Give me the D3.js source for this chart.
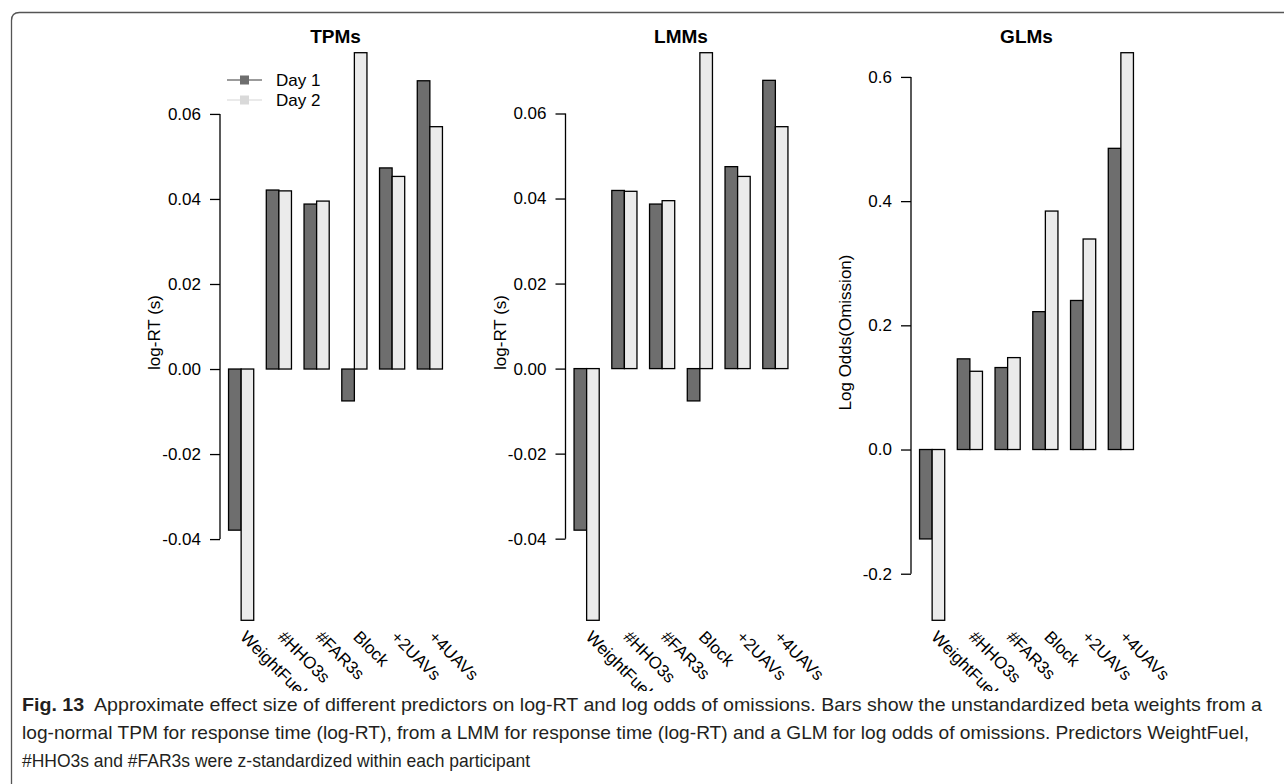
<!DOCTYPE html>
<html>
<head>
<meta charset="utf-8">
<script src="https://cdnjs.cloudflare.com/ajax/libs/d3/7.8.5/d3.min.js"></script>
<style>
  body { margin: 0; background: #fff; }
  svg { display: block; }
  text { font-family: "Liberation Sans", Arial, Helvetica, sans-serif; fill: #000; }
  .caption { font-family: "Liberation Sans", Arial, sans-serif; fill: #231f20; }
</style>
</head>
<body>
<div id="chart"></div>
<script>
// predictors and days
var predictors = ["WeightFuel", "#HHO3s", "#FAR3s", "Block", "+2UAVs", "+4UAVs"];
var days = ["Day 1", "Day 2"];

// beta weights
var tpmDay1 = [-0.0379, 0.0421, 0.0388, -0.0075, 0.0473, 0.0678];
var tpmDay2 = [-0.0591, 0.0419, 0.0395, 0.0744, 0.0453, 0.0570];
var lmmDay1 = [-0.0380, 0.0419, 0.0387, -0.0076, 0.0475, 0.0678];
var lmmDay2 = [-0.0592, 0.0417, 0.0395, 0.0743, 0.0452, 0.0569];
var glmDay1 = [-0.144, 0.146, 0.132, 0.222, 0.240, 0.485];
var glmDay2 = [-0.275, 0.126, 0.148, 0.384, 0.339, 0.639];

// tick labels
var rtTicks = [-0.04, -0.02, 0.00, 0.02, 0.04, 0.06];
var glmTicks = [-0.2, 0.0, 0.2, 0.4, 0.6];

var panelTitles = ["TPMs", "LMMs", "GLMs"];
var yTitles = ["log-RT (s)", "log-RT (s)", "Log Odds(Omission)"];

var captionLines = [
  "Approximate effect size of different predictors on log-RT and log odds of omissions. Bars show the unstandardized beta weights from a",
  "log-normal TPM for response time (log-RT), from a LMM for response time (log-RT) and a GLM for log odds of omissions. Predictors WeightFuel,",
  "#HHO3s and #FAR3s were z-standardized within each participant"
];

var width = 1284, height = 784;
var dayColors = ["#6e6e6e", "#ebebeb"];

var svg = d3.select("#chart").append("svg")
    .attr("width", width)
    .attr("height", height);

var panels = [
  { d1: tpmDay1, d2: tpmDay2, ticks: rtTicks, fmt: ".2f" },
  { d1: lmmDay1, d2: lmmDay2, ticks: rtTicks, fmt: ".2f" },
  { d1: glmDay1, d2: glmDay2, ticks: glmTicks, fmt: ".1f" }
];

var plotTop = 30, plotBottom = 643, plotW = 231;

panels.forEach(function(p, k) {
  var left = 220 + 345.5 * k;
  var g = svg.append("g").attr("transform", "translate(" + left + ",0)");

  // R style ylim: data range plus 4%
  var all = p.d1.concat(p.d2);
  var ext = d3.extent(all);
  var pad = (ext[1] - ext[0]) * 0.04;
  var y = d3.scaleLinear()
      .domain([ext[0] - pad, ext[1] + pad])
      .range([plotBottom, plotTop]);

  var x = d3.scaleBand()
      .domain(predictors)
      .range([0, plotW])
      .paddingInner(1 / 3)
      .paddingOuter(0.68 / 3);
  var xDay = d3.scaleBand()
      .domain(days)
      .range([0, x.bandwidth()]);

  var rows = predictors.map(function(name, i) {
    return { name: name, vals: [p.d1[i], p.d2[i]] };
  });

  var grp = g.selectAll(".grp")
    .data(rows)
    .enter().append("g")
      .attr("transform", function(d) { return "translate(" + x(d.name) + ",0)"; });

  grp.selectAll("rect")
    .data(function(d) { return d.vals.map(function(v, j) { return { day: days[j], v: v, j: j }; }); })
    .enter().append("rect")
      .attr("x", function(d) { return xDay(d.day); })
      .attr("width", xDay.bandwidth())
      .attr("y", function(d) { return y(Math.max(0, d.v)); })
      .attr("height", function(d) { return Math.abs(y(d.v) - y(0)); })
      .attr("fill", function(d) { return dayColors[d.j]; })
      .attr("stroke", "#000")
      .attr("stroke-width", 1.3);

  // y axis
  var f = d3.format(p.fmt);
  var ax = g.append("g")
      .call(d3.axisLeft(y)
        .tickValues(p.ticks)
        .tickSize(10)
        .tickPadding(9)
        .tickFormat(function(d) { return f(d).replace("\u2212", "-"); }));
  ax.select(".domain").remove();
  ax.selectAll(".tick line").attr("stroke", "#000").attr("stroke-width", 1.3);
  ax.selectAll(".tick text")
      .style("font-size", "17px")
      .style("font-family", "'Liberation Sans', Arial, sans-serif")
      .attr("fill", "#000");
  ax.append("line")
      .attr("y1", y(d3.min(p.ticks)))
      .attr("y2", y(d3.max(p.ticks)))
      .attr("stroke", "#000")
      .attr("stroke-width", 1.3);

  // x labels, rotated
  g.selectAll(".xlab")
    .data(predictors)
    .enter().append("text")
      .attr("transform", function(d) {
        return "translate(" + (x(d) + x.bandwidth() / 2 - 2) + ",638) rotate(45)";
      })
      .style("font-size", "17px")
      .text(function(d) { return d; });

  // panel title
  g.append("text")
      .attr("x", plotW / 2)
      .attr("y", 43)
      .attr("text-anchor", "middle")
      .style("font-size", "19px")
      .style("font-weight", "bold")
      .text(panelTitles[k]);

  // y title
  g.append("text")
      .attr("transform", "translate(-60," + ((plotTop + plotBottom) / 2 - 4) + ") rotate(-90)")
      .attr("text-anchor", "middle")
      .style("font-size", "17px")
      .text(yTitles[k]);

  // legend in first panel
  if (k === 0) {
    var leg = g.selectAll(".leg")
      .data(days)
      .enter().append("g")
        .attr("transform", function(d, i) { return "translate(7," + (80 + i * 20) + ")"; });
    leg.append("line")
        .attr("x1", 0).attr("x2", 35)
        .attr("stroke", function(d, i) { return i === 0 ? "#7a7a7a" : "#e3e3e3"; })
        .attr("stroke-width", 1.5);
    leg.append("rect")
        .attr("x", 13).attr("y", -4.5)
        .attr("width", 9).attr("height", 9)
        .attr("fill", function(d, i) { return i === 0 ? "#6e6e6e" : "#d9d9d9"; });
    leg.append("text")
        .attr("x", 49)
        .attr("y", 6)
        .style("font-size", "17px")
        .text(function(d) { return d; });
  }
});

// caption area covers the tail of the rotated labels, like the figure
svg.append("rect")
    .attr("x", 12).attr("y", 691)
    .attr("width", width - 12).attr("height", height - 691)
    .attr("fill", "#fff");

// figure frame (rounded top-left corner)
svg.append("path")
    .attr("d", "M11.5,784 V20.5 Q11.5,12.5 19.5,12.5 H1284")
    .attr("fill", "none")
    .attr("stroke", "#555")
    .attr("stroke-width", 1.3);

// caption
var capEnds = [1262, 1249, 530];
var cap = svg.selectAll(".caption")
  .data(captionLines)
  .enter().append("text")
    .attr("class", "caption")
    .attr("x", 22)
    .attr("y", function(d, i) { return 711 + i * 28; })
    .style("font-size", "19px")
    .attr("textLength", function(d, i) { return capEnds[i] - 22; })
    .attr("lengthAdjust", "spacingAndGlyphs");

cap.each(function(d, i) {
  var t = d3.select(this);
  if (i === 0) {
    t.append("tspan").style("font-weight", "bold").text("Fig. 13");
    t.append("tspan").text("\u00a0 " + d);
  } else {
    t.text(d);
  }
});
</script>
</body>
</html>
